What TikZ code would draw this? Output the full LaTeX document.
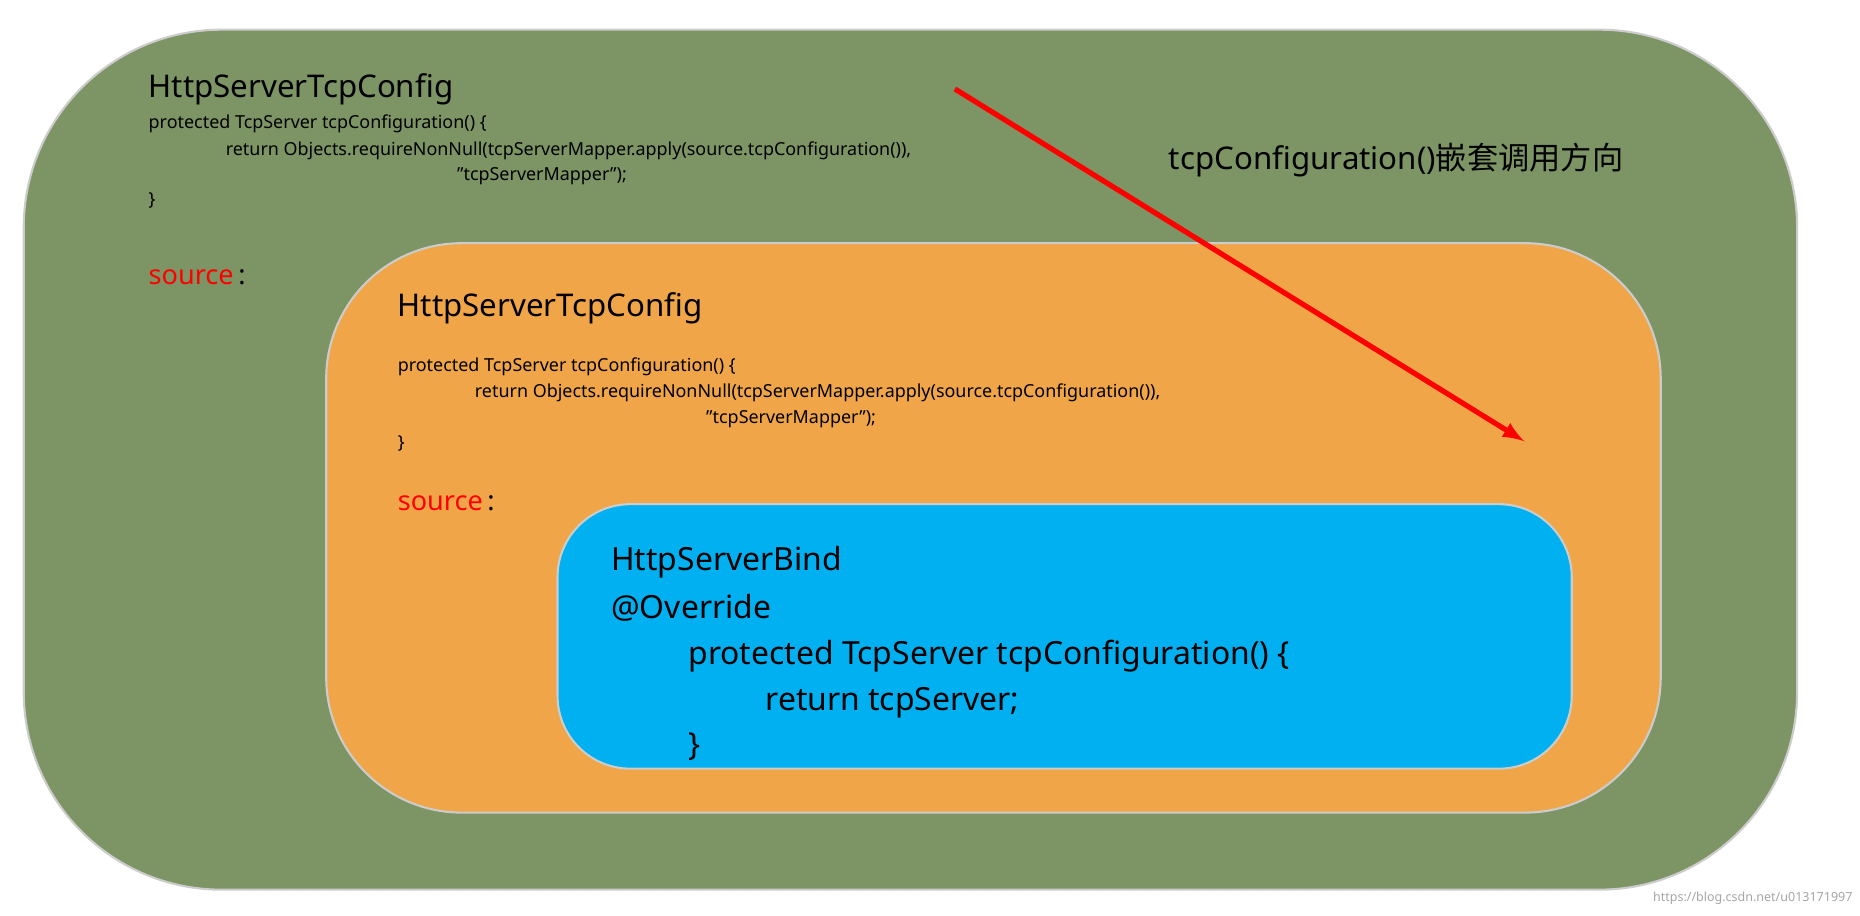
\documentclass[tikz,border=0pt]{standalone}
\usepackage{fontspec}
\setmainfont{Noto Sans}
\newfontfamily\cjk{Noto Sans CJK SC}
\definecolor{outergreen}{RGB}{125,148,100}
\definecolor{midorange}{RGB}{240,166,72}
\definecolor{innerblue}{RGB}{0,176,240}
\newcommand{\dq}{\symbol{34}}
\begin{document}
\begin{tikzpicture}[x=0.02cm,y=-0.02cm,
    code/.style={anchor=base west,inner sep=0,font=\fontsize{8.6}{10}\selectfont},
    title/.style={anchor=base west,inner sep=0,font=\fontsize{15}{18}\selectfont},
    big/.style={anchor=base west,inner sep=0,font=\fontsize{15.3}{18}\selectfont},
    src/.style={anchor=base west,inner sep=0,font=\fontsize{13}{16}\selectfont}]
\useasboundingbox (0,0) rectangle (1568,772);
\fill[white] (0,0) rectangle (1568,772);

% boxes
\fill[outergreen,draw=gray!40,line width=1pt,rounded corners=95] (20,25) rectangle (1515,750);
\fill[midorange,draw=gray!40,line width=1pt,rounded corners=65] (275,205) rectangle (1400,685);
\fill[innerblue,draw=gray!40,line width=1pt,rounded corners=35] (470,425) rectangle (1325,648);

% outer text
\node[title] (t1) at (125,82) {HttpServerTcpConfig};
\node[code] (c11) at (125,108) {protected TcpServer tcpConfiguration() \{};
\node[code] (c12) at (190,131) {return Objects.requireNonNull(tcpServerMapper.apply(source.tcpConfiguration()),};
\node[code] (c13) at (385,152) {\dq tcpServerMapper\dq);};
\node[code] (c14) at (125,173) {\}};
\node[src] (s1) at (125,240) {\textcolor{red}{source}\,:};

% middle text
\node[title] (t2) at (335,267) {HttpServerTcpConfig};
\node[code] (c21) at (335,313) {protected TcpServer tcpConfiguration() \{};
\node[code] (c22) at (400,335) {return Objects.requireNonNull(tcpServerMapper.apply(source.tcpConfiguration()),};
\node[code] (c23) at (595,357) {\dq tcpServerMapper\dq);};
\node[code] (c24) at (335,378) {\}};
\node[src] (s2) at (335,430) {\textcolor{red}{source}\,:};

% inner text
\node[big] (b1) at (515,481) {HttpServerBind};
\node[big] (b2) at (515,521) {@Override};
\node[big] (b3) at (580,560) {protected TcpServer tcpConfiguration() \{};
\node[big] (b4) at (645,599) {return tcpServer;};
\node[big] (b5) at (580,637) {\}};

% direction
\node[title] (dir) at (985,143) {tcpConfiguration()\cjk 嵌套调用方向};
\coordinate (from) at (805,75);
\coordinate (to) at (1285,372);
\draw[red,line width=2.5pt,-latex] (from) -- (to);

\node[anchor=base east,inner sep=0,text=gray!70,font=\fontsize{6}{7}\selectfont] (wm) at (1562,760) {https://blog.csdn.net/u013171997};
\end{tikzpicture}
\end{document}
